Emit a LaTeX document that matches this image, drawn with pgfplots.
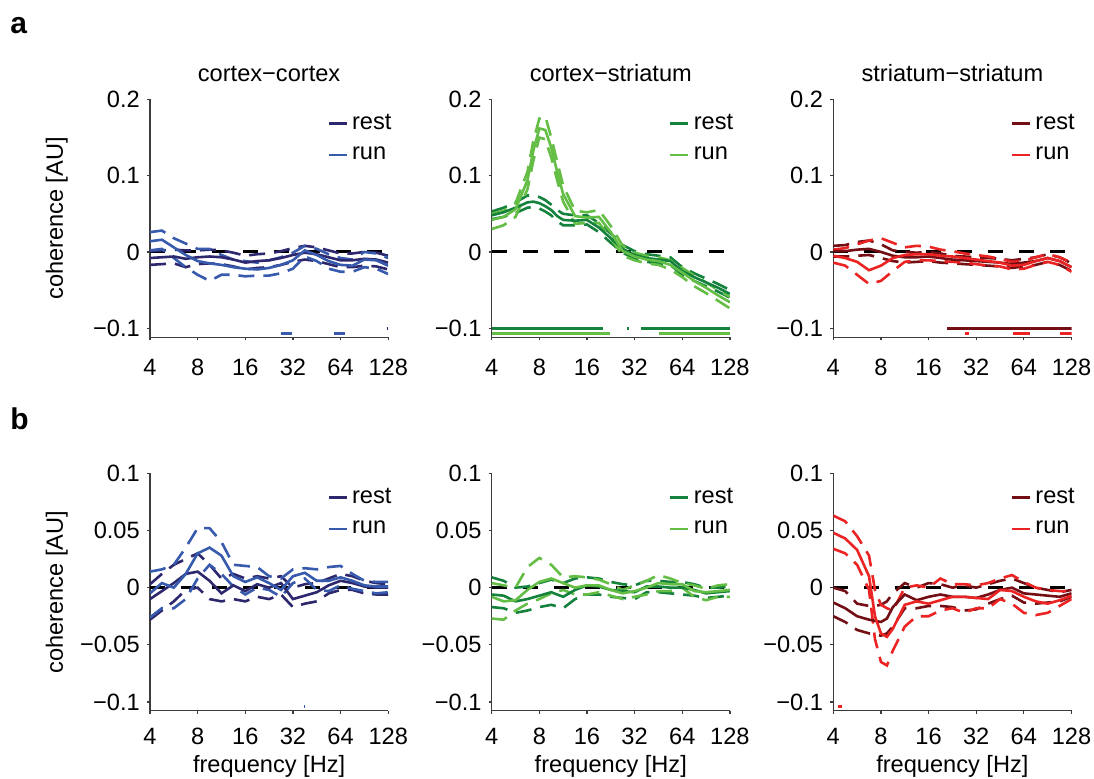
\documentclass[border=0pt]{standalone}
\usepackage{pgfplots}
\pgfplotsset{compat=1.18}
\usepackage{pgfplotstable}
\usepackage{fontspec}
\setmainfont{Liberation Sans}
\definecolor{ccrest}{RGB}{45,40,110}
\definecolor{ccrun}{RGB}{55,90,172}
\definecolor{csrest}{RGB}{20,130,60}
\definecolor{csrun}{RGB}{100,190,70}
\definecolor{ssrest}{RGB}{115,15,20}
\definecolor{ssrun}{RGB}{235,35,35}
\definecolor{axgray}{RGB}{60,60,60}

% columns: f, rest mean/lower/upper, run mean/lower/upper
\pgfplotstableread{
f rm rl ru nm nl nu
4 -0.008 -0.017 0.001 0.014 0.002 0.026
4.757 -0.007 -0.016 0.002 0.016 0.004 0.028
5.657 -0.006 -0.015 0.003 0.006 -0.008 0.018
6.727 -0.009 -0.020 0.002 -0.004 -0.020 0.011
8 -0.007 -0.016 0.002 -0.012 -0.030 0.004
9.514 -0.006 -0.015 0.003 -0.015 -0.038 0.004
11.314 -0.007 -0.016 0.002 -0.017 -0.030 -0.004
13.454 -0.010 -0.019 -0.001 -0.020 -0.030 -0.010
16 -0.014 -0.023 -0.005 -0.022 -0.032 -0.012
19.027 -0.012 -0.021 -0.003 -0.023 -0.031 -0.014
22.627 -0.011 -0.020 -0.002 -0.021 -0.031 -0.011
26.909 -0.008 -0.017 0.001 -0.017 -0.028 -0.007
32 -0.004 -0.013 0.005 -0.011 -0.022 -0.001
38.055 -0.001 -0.010 0.008 0.002 -0.006 0.008
45.255 -0.003 -0.012 0.006 -0.004 -0.012 0.004
53.817 -0.007 -0.016 0.002 -0.012 -0.022 -0.003
64 -0.011 -0.020 -0.002 -0.017 -0.026 -0.008
76.109 -0.011 -0.020 -0.002 -0.018 -0.026 -0.010
90.51 -0.009 -0.018 0.000 -0.010 -0.020 0.000
107.635 -0.010 -0.019 -0.001 -0.011 -0.022 -0.002
128 -0.014 -0.023 -0.005 -0.018 -0.029 -0.008
}\taone

\pgfplotstableread{
f rm rl ru nm nl nu
4 0.048 0.043 0.053 0.042 0.030 0.050
4.757 0.052 0.046 0.058 0.046 0.035 0.054
5.657 0.058 0.051 0.065 0.056 0.046 0.064
6.727 0.065 0.058 0.074 0.094 0.082 0.105
7.336 0.066 0.059 0.074 0.133 0.120 0.146
8 0.064 0.057 0.072 0.162 0.150 0.175
8.724 0.060 0.053 0.068 0.160 0.148 0.178
9.514 0.055 0.048 0.062 0.137 0.124 0.150
10.375 0.047 0.040 0.055 0.105 0.094 0.118
11.314 0.042 0.035 0.050 0.076 0.066 0.087
13.454 0.041 0.035 0.048 0.047 0.037 0.054
16 0.042 0.036 0.048 0.045 0.038 0.052
19.027 0.032 0.026 0.038 0.046 0.038 0.055
22.627 0.018 0.012 0.024 0.026 0.018 0.034
26.909 0.004 -0.001 0.009 0.001 -0.005 0.008
32 -0.004 -0.009 0.001 -0.006 -0.011 -0.001
38.055 -0.008 -0.013 -0.003 -0.010 -0.015 -0.005
45.255 -0.010 -0.015 -0.005 -0.012 -0.017 -0.007
53.817 -0.012 -0.017 -0.007 -0.017 -0.023 -0.011
64 -0.025 -0.030 -0.020 -0.027 -0.033 -0.021
76.109 -0.033 -0.038 -0.028 -0.038 -0.045 -0.031
90.51 -0.040 -0.045 -0.035 -0.047 -0.054 -0.040
107.635 -0.047 -0.052 -0.042 -0.057 -0.064 -0.050
128 -0.055 -0.060 -0.050 -0.066 -0.074 -0.059
}\tatwo

\pgfplotstableread{
f rm rl ru nm nl nu
4 0.001 -0.006 0.008 -0.005 -0.014 0.003
4.757 0.001 -0.006 0.009 -0.008 -0.018 0.005
5.657 0.003 -0.005 0.013 -0.013 -0.030 0.010
6.727 0.004 -0.004 0.015 -0.024 -0.042 0.015
8 0.000 -0.008 0.010 -0.018 -0.038 0.018
9.514 -0.005 -0.012 0.002 -0.008 -0.025 0.012
11.314 -0.007 -0.014 0.000 -0.004 -0.013 0.006
13.454 -0.007 -0.013 -0.001 -0.003 -0.011 0.008
16 -0.006 -0.012 0.000 -0.003 -0.011 0.007
19.027 -0.008 -0.014 -0.002 -0.005 -0.012 0.003
22.627 -0.010 -0.015 -0.005 -0.006 -0.013 0.001
26.909 -0.011 -0.016 -0.006 -0.008 -0.014 -0.002
32 -0.012 -0.017 -0.007 -0.010 -0.016 -0.004
38.055 -0.013 -0.018 -0.008 -0.012 -0.018 -0.006
45.255 -0.014 -0.019 -0.009 -0.014 -0.019 -0.009
53.817 -0.016 -0.021 -0.011 -0.018 -0.023 -0.013
64 -0.014 -0.019 -0.009 -0.017 -0.022 -0.012
76.109 -0.012 -0.017 -0.007 -0.012 -0.017 -0.007
90.51 -0.008 -0.013 -0.003 -0.008 -0.013 -0.003
107.635 -0.012 -0.017 -0.007 -0.012 -0.017 -0.007
128 -0.020 -0.025 -0.015 -0.020 -0.026 -0.014
}\tathree

\pgfplotstableread{
f rm rl ru nm nl nu
4 -0.010 -0.028 0.003 -0.005 -0.026 0.014
4.757 -0.003 -0.020 0.012 0.004 -0.018 0.016
5.657 0.004 -0.012 0.020 0.000 -0.018 0.020
6.727 0.012 -0.002 0.025 0.012 -0.010 0.035
8 0.014 0.000 0.030 0.030 0.008 0.052
9.514 0.006 -0.010 0.020 0.035 0.020 0.052
11.314 -0.005 -0.012 0.008 0.028 0.012 0.040
13.454 0.002 -0.010 0.012 0.010 0.001 0.020
16 -0.003 -0.012 0.008 0.005 -0.006 0.019
19.027 0.003 -0.008 0.010 0.009 0.000 0.018
22.627 0.000 -0.010 0.008 0.004 -0.002 0.010
26.909 0.004 -0.006 0.010 -0.002 -0.008 0.008
32 -0.010 -0.017 0.000 0.010 0.004 0.016
38.055 -0.007 -0.014 0.003 0.013 0.008 0.017
45.255 -0.004 -0.012 0.004 0.006 -0.002 0.016
53.817 0.002 -0.005 0.008 0.006 -0.003 0.018
64 0.006 -0.002 0.012 0.009 0.002 0.019
76.109 0.004 -0.002 0.010 0.006 -0.001 0.012
90.51 0.001 -0.005 0.006 0.002 -0.003 0.006
107.635 0.000 -0.006 0.004 0.001 -0.005 0.005
128 0.000 -0.006 0.003 0.001 -0.004 0.005
}\tbone

\pgfplotstableread{
f rm rl ru nm nl nu
4 -0.006 -0.017 0.009 -0.008 -0.027 0.004
4.757 -0.007 -0.018 0.006 -0.012 -0.028 0.002
5.657 -0.012 -0.022 0.000 -0.011 -0.020 0.000
6.727 -0.010 -0.020 0.001 -0.002 -0.014 0.018
8 -0.007 -0.017 0.004 0.005 -0.010 0.026
9.514 -0.004 -0.015 0.007 0.008 -0.005 0.020
11.314 -0.008 -0.018 0.004 0.004 -0.002 0.009
13.454 -0.002 -0.010 0.008 0.000 -0.006 0.010
16 0.002 -0.006 0.009 0.002 -0.006 0.009
19.027 0.001 -0.006 0.008 0.002 -0.004 0.007
22.627 -0.002 -0.008 0.005 -0.002 -0.007 0.003
26.909 -0.003 -0.009 0.003 -0.005 -0.010 -0.002
32 -0.004 -0.010 0.002 -0.003 -0.008 0.002
38.055 0.001 -0.004 0.006 0.000 -0.006 0.006
45.255 0.001 -0.004 0.006 0.004 -0.003 0.011
53.817 0.000 -0.005 0.005 0.003 -0.003 0.008
64 0.000 -0.006 0.005 0.003 0.000 0.004
76.109 -0.002 -0.007 0.003 -0.003 -0.008 0.002
90.51 -0.005 -0.009 0.000 -0.004 -0.011 -0.001
107.635 -0.004 -0.008 0.000 -0.003 -0.008 0.002
128 -0.003 -0.007 0.001 -0.002 -0.008 0.003
}\tbtwo

\pgfplotstableread{
f rm rl ru nm nl nu
4 -0.013 -0.025 0.000 0.048 0.034 0.063
4.757 -0.018 -0.030 -0.003 0.043 0.030 0.058
5.657 -0.025 -0.037 -0.014 0.033 0.020 0.045
6.727 -0.028 -0.040 -0.016 0.010 -0.002 0.028
7.336 -0.029 -0.041 -0.016 -0.025 -0.045 -0.002
8 -0.030 -0.042 -0.015 -0.040 -0.065 -0.015
8.724 -0.027 -0.040 -0.012 -0.043 -0.068 -0.018
9.514 -0.017 -0.034 -0.005 -0.036 -0.055 -0.020
11.314 -0.006 -0.018 0.004 -0.015 -0.034 0.000
13.454 -0.011 -0.018 0.000 -0.012 -0.025 0.002
16 -0.008 -0.016 0.004 -0.014 -0.025 0.000
19.027 -0.006 -0.016 0.003 -0.011 -0.020 0.008
22.627 -0.008 -0.017 0.000 -0.008 -0.018 0.003
26.909 -0.008 -0.020 0.002 -0.008 -0.022 0.003
32 -0.009 -0.019 0.000 -0.009 -0.018 0.002
38.055 -0.006 -0.014 0.003 -0.010 -0.018 0.004
45.255 -0.002 -0.010 0.006 -0.002 -0.010 0.008
53.817 0.000 -0.007 0.008 -0.003 -0.014 0.011
64 -0.005 -0.013 0.004 -0.008 -0.022 0.005
76.109 -0.006 -0.014 0.000 -0.012 -0.024 0.000
90.51 -0.007 -0.013 -0.002 -0.014 -0.022 -0.002
107.635 -0.008 -0.012 -0.004 -0.011 -0.016 -0.003
128 -0.005 -0.008 -0.002 -0.007 -0.010 -0.003
}\tbthree

\pgfplotsset{
   scale only axis, width=119.1pt,
   axis lines=left, axis line style={-, axgray, line width=0.6pt},
   tick align=outside, major tick length=1.6pt, tick style={axgray, line width=0.6pt},
   minor tick num=0,
   xticklabel style={yshift=-5.6pt},
   legend style={at={(1.032,0.955)}, anchor=north east, draw=none, fill=none,
     inner sep=0pt, row sep=3.2pt},
   legend cell align=left,
   legend image code/.code={\draw[#1] (0pt,0pt) -- (9pt,0pt);},
   title style={anchor=base, yshift=2.75pt},
   every axis y label/.style={at={(-0.3655,0.5)}, rotate=90, anchor=base},
   every axis x label/.style={at={(0.5,-0.2624)}, anchor=base},
}
\tikzset{
 mymean/.style={line width=1.3pt},
 myci/.style={line width=1.3pt, dash pattern=on 8pt off 4.5pt},
 myzero/.style={black, line width=1.5pt, dash pattern=on 7.5pt off 8pt},
 mysig/.style={line width=1.5pt},
}

\newcommand\curves[3]{%
  \addplot[myzero, forget plot] coordinates {(4,0) (128,0)};
  \addplot[myci,#2, forget plot] table[x=f,y=rl]{#1};
  \addplot[myci,#2, forget plot] table[x=f,y=ru]{#1};
  \addplot[myci,#3, forget plot] table[x=f,y=nl]{#1};
  \addplot[myci,#3, forget plot] table[x=f,y=nu]{#1};
  \addplot[mymean,#2] table[x=f,y=rm]{#1};
  \addlegendentry{rest}
  \addplot[mymean,#3] table[x=f,y=nm]{#1};
  \addlegendentry{run}
}

\begin{document}
\begin{tikzpicture}[font=\fontsize{11.8}{14}\selectfont]
\useasboundingbox (0pt,0pt) rectangle (547pt,389pt);

% ---- row a ----
\begin{axis}[scale only axis, width=119.1pt, height=118.9pt,
   xmode=log, log basis x=2, xmin=4, xmax=128,
   xtick={4,8,16,32,64,128}, xticklabels={4,8,16,32,64,128},
   ymin=-0.112, ymax=0.2,
   ytick={-0.1,0,0.1,0.2}, yticklabels={−0.1,0,0.1,0.2},
   at={(75pt,220.35pt)}, anchor=south west,
   title={cortex−cortex}, ylabel={coherence [AU]}]
\curves{\taone}{ccrest}{ccrun}
\addplot[mysig,ccrun,forget plot] coordinates {(26.9,-0.1065) (31.6,-0.1065)};
\addplot[mysig,ccrun,forget plot] coordinates {(58.4,-0.1065) (68.5,-0.1065)};
\addplot[mysig,ccrest,forget plot] coordinates {(125,-0.1) (128,-0.1)};
\end{axis}

\begin{axis}[scale only axis, width=119.1pt, height=118.9pt,
   xmode=log, log basis x=2, xmin=4, xmax=128,
   xtick={4,8,16,32,64,128}, xticklabels={4,8,16,32,64,128},
   ymin=-0.112, ymax=0.2,
   ytick={-0.1,0,0.1,0.2}, yticklabels={−0.1,0,0.1,0.2},
   at={(245.85pt,220.35pt)}, anchor=south west,
   title={cortex−striatum}]
\curves{\tatwo}{csrest}{csrun}
\addplot[mysig,csrest,forget plot] coordinates {(4,-0.1) (20.2,-0.1)};
\addplot[mysig,csrest,forget plot] coordinates {(28.6,-0.1) (29.4,-0.1)};
\addplot[mysig,csrest,forget plot] coordinates {(35,-0.1) (128,-0.1)};
\addplot[mysig,csrun,forget plot] coordinates {(4,-0.1065) (22.4,-0.1065)};
\addplot[mysig,csrun,forget plot] coordinates {(45.3,-0.1065) (128,-0.1065)};
\end{axis}

\begin{axis}[scale only axis, width=119.1pt, height=118.9pt,
   xmode=log, log basis x=2, xmin=4, xmax=128,
   xtick={4,8,16,32,64,128}, xticklabels={4,8,16,32,64,128},
   ymin=-0.112, ymax=0.2,
   ytick={-0.1,0,0.1,0.2}, yticklabels={−0.1,0,0.1,0.2},
   at={(416.65pt,220.35pt)}, anchor=south west,
   title={striatum−striatum}]
\curves{\tathree}{ssrest}{ssrun}
\addplot[mysig,ssrest,forget plot] coordinates {(21,-0.1) (128,-0.1)};
\addplot[mysig,ssrun,forget plot] coordinates {(27.2,-0.1065) (28.8,-0.1065)};
\addplot[mysig,ssrun,forget plot] coordinates {(55,-0.1065) (69.5,-0.1065)};
\addplot[mysig,ssrun,forget plot] coordinates {(108,-0.1065) (128,-0.1065)};
\end{axis}

% ---- row b ----
\begin{axis}[scale only axis, width=119.1pt, height=118.7pt,
   xmode=log, log basis x=2, xmin=4, xmax=128,
   xtick={4,8,16,32,64,128}, xticklabels={4,8,16,32,64,128},
   xticklabel style={yshift=2.2pt},
   ymin=-0.1076, ymax=0.1,
   ytick={-0.1,-0.05,0,0.05,0.1}, yticklabels={−0.1,−0.05,0,0.05,0.1},
   at={(75pt,33.65pt)}, anchor=south west,
   ylabel={coherence [AU]}, xlabel={frequency [Hz]}]
\curves{\tbone}{ccrest}{ccrun}
\addplot[mysig,ccrun,forget plot] coordinates {(37.5,-0.1035) (38.3,-0.1035)};
\end{axis}

\begin{axis}[scale only axis, width=119.1pt, height=118.7pt,
   xmode=log, log basis x=2, xmin=4, xmax=128,
   xtick={4,8,16,32,64,128}, xticklabels={4,8,16,32,64,128},
   xticklabel style={yshift=2.2pt},
   ymin=-0.1076, ymax=0.1,
   ytick={-0.1,-0.05,0,0.05,0.1}, yticklabels={−0.1,−0.05,0,0.05,0.1},
   at={(245.85pt,33.65pt)}, anchor=south west,
   xlabel={frequency [Hz]}]
\curves{\tbtwo}{csrest}{csrun}
\end{axis}

\begin{axis}[scale only axis, width=119.1pt, height=118.7pt,
   xmode=log, log basis x=2, xmin=4, xmax=128,
   xtick={4,8,16,32,64,128}, xticklabels={4,8,16,32,64,128},
   xticklabel style={yshift=2.2pt},
   ymin=-0.1076, ymax=0.1,
   ytick={-0.1,-0.05,0,0.05,0.1}, yticklabels={−0.1,−0.05,0,0.05,0.1},
   at={(416.65pt,33.65pt)}, anchor=south west,
   xlabel={frequency [Hz]}]
\curves{\tbthree}{ssrest}{ssrun}
\addplot[mysig,ssrun,forget plot] coordinates {(4.3,-0.104) (4.55,-0.104)};
\end{axis}

\node[anchor=base west, inner sep=0pt, font=\bfseries\fontsize{15}{17}\selectfont] at (5pt,372pt) {a};
\node[anchor=base west, inner sep=0pt, font=\bfseries\fontsize{15}{17}\selectfont] at (5pt,174pt) {b};
\end{tikzpicture}
\end{document}
